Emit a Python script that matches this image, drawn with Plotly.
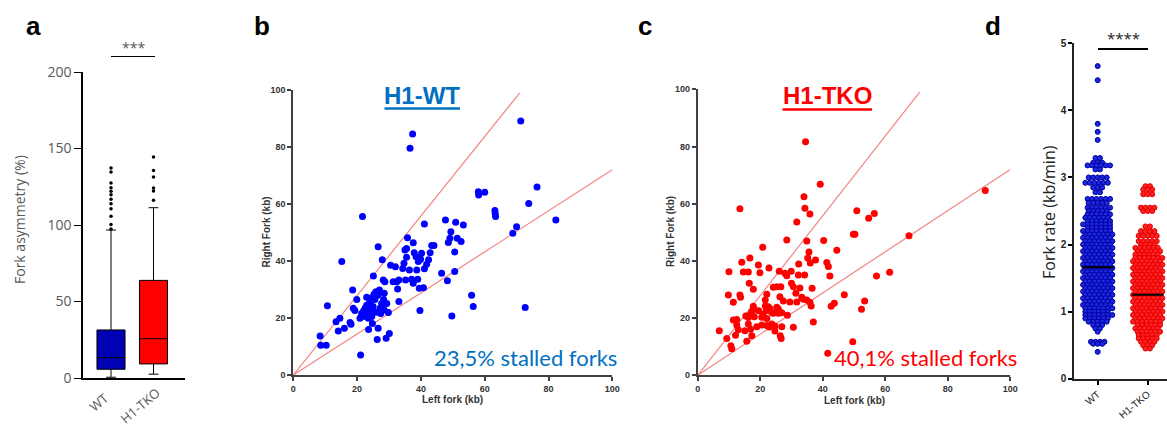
import plotly.graph_objects as go

W, H = 1167, 425
def fx(p): return p / W
def fy(p): return 1 - p / H

# ---------------- Panel a: fork asymmetry box plot ----------------
box_groups = ["WT", "H1-TKO"]
box_q1 = [5.7, 9.2]
box_median = [13.3, 25.7]
box_q3 = [31.4, 63.8]
box_lower = [0.5, 2.5]
box_upper = [96.7, 111.3]
box_colors = ["#0000B4", "#FF0000"]
wt_outliers = [97.4, 100.4, 105.7, 110.7, 113.9, 116.8, 119.8, 122.0, 124.4, 127.5, 134.6, 137.3]
tko_outliers = [116.1, 122.2, 124.2, 131.4, 135.7, 144.4]

# ---------------- Panel b: H1-WT left vs right fork ----------------
wt_left = [71.3, 37.4, 36.6, 21.7, 15.2, 10.7, 8.4, 8.6, 10.3, 13.4, 14.1, 14.6, 16.0, 17.8, 18.1,
           18.6, 18.8, 19.3, 19.9, 20.9, 21.1, 21.4, 22.2, 22.5, 23.0, 23.0, 23.5, 23.6, 24.0, 24.3,
           24.6, 24.8, 25.1, 25.3, 25.6, 25.9, 26.3, 26.6, 26.6, 27.0, 27.2, 27.4, 27.7, 27.9, 28.2,
           28.3, 28.5, 28.7, 29.1, 29.3, 29.8, 30.1, 30.5, 31.3, 32.0, 32.4, 32.7, 33.1, 33.1, 34.3,
           34.7, 35.0, 35.5, 35.2, 35.5, 35.8, 36.4, 37.1, 37.6, 37.6, 37.9, 38.5, 38.7, 39.0, 39.2,
           39.5, 39.7, 39.9, 40.2, 40.8, 41.1, 41.1, 41.8, 42.4, 42.9, 43.4, 44.1, 46.5, 47.7, 48.3,
           48.6, 49.1, 49.4, 49.7, 50.6, 50.6, 50.9, 51.4, 52.6, 53.3, 55.9, 56.4, 58.0, 58.1, 60.0,
           63.2, 63.3, 63.4, 68.8, 70.0, 72.7, 73.8, 76.4, 82.3,
           22.5, 23.5, 24.0, 22.0, 25.0, 26.0, 27.5, 28.0, 23.0, 24.5, 26.5, 28.5]
wt_right = [89.1, 84.6, 79.6, 55.6, 39.8, 24.3, 13.7, 10.4, 10.4, 18.7, 15.4, 19.9, 16.4, 18.4, 17.8,
            29.8, 23.4, 22.6, 26.5, 19.9, 7.0, 21.6, 21.1, 23.4, 21.6, 27.3, 19.9, 16.0, 25.7, 23.0,
            20.5, 18.1, 34.7, 28.3, 26.5, 29.2, 12.5, 16.4, 45.0, 29.8, 23.4, 21.6, 25.1, 40.4, 33.3,
            26.5, 28.7, 32.7, 12.9, 25.1, 21.9, 14.6, 38.5, 32.7, 38.0, 32.7, 30.2, 33.3, 25.8, 37.4,
            39.2, 43.9, 44.4, 33.3, 41.3, 48.2, 36.8, 33.6, 46.4, 32.2, 42.9, 41.5, 36.8, 33.6, 39.8,
            30.4, 22.6, 40.6, 42.7, 30.6, 53.0, 37.3, 38.9, 40.4, 42.9, 45.4, 45.4, 35.7, 54.4, 33.1,
            46.5, 48.0, 50.3, 20.7, 36.3, 43.2, 53.6, 48.0, 46.8, 52.6, 28.0, 24.0, 64.3, 63.2, 64.1,
            57.7, 56.7, 55.6, 49.7, 52.0, 23.7, 60.2, 66.0, 54.4,
            20.5, 22.0, 21.0, 22.5, 24.0, 22.0, 22.5, 24.0, 24.5, 27.0, 28.0, 22.8]

# ---------------- Panel c: H1-TKO left vs right fork ----------------
tko_left = [34.5, 39.2, 13.5, 34.0, 34.3, 35.9, 31.7, 28.5, 34.9, 20.8, 40.3, 44.5, 35.6, 35.2, 16.7,
            14.1, 37.7, 36.0, 41.3, 19.4, 41.8, 32.3, 22.8, 10.0, 14.6, 16.2, 19.9, 26.1, 27.9, 29.9,
            28.5, 32.2, 34.2, 42.3, 57.2, 61.4, 16.5, 30.0, 30.6, 32.7, 36.6, 24.2, 25.3, 26.6, 17.8,
            9.8, 13.5, 13.7, 22.1, 26.3, 31.4, 33.3, 46.9, 11.4, 21.6, 27.4, 29.5, 31.7, 33.8, 34.9,
            35.9, 36.3, 42.7, 43.7, 53.4, 52.4, 17.8, 18.0, 21.6, 22.6, 23.1, 25.3, 25.8, 17.3, 19.5,
            21.9, 23.7, 26.9, 16.7, 20.9, 24.2, 25.8, 15.4, 11.4, 12.5, 16.2, 18.1, 20.5, 22.1, 28.7,
            12.5, 16.2, 18.9, 20.5, 22.1, 23.7, 24.7, 26.9, 30.6, 13.0, 15.1, 16.9, 22.9, 6.9, 37.0,
            12.1, 17.3, 24.7, 26.4, 26.7, 9.3, 15.7, 10.6, 10.9, 49.6, 41.6, 49.8, 50.3, 50.9, 54.7,
            56.5, 67.6, 92.0]
tko_right = [81.7, 66.8, 58.2, 62.4, 58.4, 56.4, 53.6, 47.3, 47.0, 44.8, 47.1, 43.7, 43.1, 41.0, 41.0,
             39.5, 40.3, 39.3, 39.4, 38.6, 38.0, 38.9, 37.5, 36.2, 36.1, 36.1, 35.9, 36.4, 35.7, 36.4,
             34.8, 35.1, 35.1, 34.7, 34.7, 36.0, 32.2, 32.2, 31.0, 30.5, 30.4, 30.8, 31.0, 31.0, 30.1,
             28.1, 28.1, 27.3, 28.3, 27.5, 28.7, 27.3, 28.2, 25.5, 26.3, 26.0, 25.6, 25.6, 26.6, 26.3,
             25.5, 24.2, 24.1, 25.2, 26.0, 23.1, 24.1, 23.1, 24.2, 24.0, 23.4, 23.8, 23.2, 22.3, 22.6,
             22.6, 21.9, 21.9, 21.1, 21.3, 21.7, 21.7, 20.7, 19.3, 19.5, 20.2, 20.5, 20.3, 19.9, 21.0,
             17.6, 17.9, 17.0, 17.6, 17.4, 17.9, 17.2, 17.0, 16.8, 15.9, 15.6, 16.1, 16.9, 15.6, 18.6,
             14.0, 13.8, 15.5, 13.8, 12.9, 12.9, 11.9, 10.3, 9.3, 11.7, 7.7, 49.3, 49.3, 57.5, 54.9,
             56.6, 48.8, 64.6]

# guide lines (stall thresholds)
guide_steep_x = [0, 71]
guide_steep_y = [0, 99]
guide_shallow_x = [0, 100]
guide_shallow_y = [0, 72]

# ---------------- Panel d: fork rate swarm (rows: level, dots per row) ----------------
wt_rate_levels = [4.66, 4.45, 3.80, 3.68, 3.56, 3.29, 3.22, 3.18, 3.12, 3.00, 2.92, 2.85, 2.78, 2.68,
                  2.62, 2.55, 2.50, 2.45, 2.40, 2.35, 2.30, 2.25, 2.20, 2.15, 2.10, 2.05, 2.00, 1.95,
                  1.90, 1.85, 1.80, 1.75, 1.70, 1.65, 1.60, 1.55, 1.50, 1.45, 1.40, 1.35, 1.30, 1.25,
                  1.20, 1.15, 1.10, 1.05, 1.00, 0.95, 0.90, 0.85, 0.80, 0.75, 0.70, 0.55, 0.52, 0.40]
wt_rate_counts = [1, 1, 1, 1, 1, 2, 3, 6, 2, 5, 6, 3, 2, 6,
                  5, 6, 5, 6, 6, 6, 7, 6, 7, 7, 7, 7, 7, 7,
                  7, 7, 7, 7, 7, 7, 7, 7, 7, 7, 7, 7, 7, 7,
                  7, 7, 7, 7, 6, 7, 6, 5, 3, 2, 1, 4, 3, 1]
tko_rate_levels = [2.87, 2.82, 2.75, 2.55, 2.50, 2.27, 2.20, 2.13, 2.05, 2.00, 1.95, 1.90, 1.85, 1.80,
                   1.75, 1.70, 1.65, 1.60, 1.55, 1.50, 1.45, 1.40, 1.35, 1.30, 1.25, 1.20, 1.15, 1.10,
                   1.05, 1.00, 0.95, 0.90, 0.85, 0.80, 0.75, 0.70, 0.65, 0.60, 0.55, 0.50, 0.45]
tko_rate_counts = [2, 3, 3, 4, 3, 2, 4, 5, 5, 4, 6, 6, 6, 7,
                   7, 7, 7, 7, 7, 7, 7, 7, 7, 7, 7, 7, 7, 7,
                   7, 7, 7, 7, 7, 6, 6, 6, 5, 5, 4, 3, 2]
rate_medians = [1.66, 1.25]
rate_groups = ["WT", "H1-TKO"]

fig = go.Figure()

# ---- panel a traces
for i, (q1, med, q3, lo, up, col) in enumerate(zip(box_q1, box_median, box_q3, box_lower, box_upper, box_colors)):
    fig.add_trace(go.Box(x=[i], q1=[q1], median=[med], q3=[q3], lowerfence=[lo], upperfence=[up],
                         fillcolor=col, line=dict(color="black", width=1), width=0.66,
                         whiskerwidth=0.35, boxpoints=False, showlegend=False,
                         xaxis="x", yaxis="y"))
fig.add_trace(go.Scatter(x=[0] * len(wt_outliers), y=wt_outliers, mode="markers",
                         marker=dict(color="black", size=3.5), xaxis="x", yaxis="y", showlegend=False))
fig.add_trace(go.Scatter(x=[1] * len(tko_outliers), y=tko_outliers, mode="markers",
                         marker=dict(color="black", size=3.5), xaxis="x", yaxis="y", showlegend=False))

# ---- panel b/c traces
guide_col = "rgba(240,110,110,0.85)"
for xa, ya, lx, ly, col in [("x2", "y2", wt_left, wt_right, "#0000FF"),
                            ("x3", "y3", tko_left, tko_right, "#FF0000")]:
    fig.add_trace(go.Scatter(x=guide_steep_x, y=guide_steep_y, mode="lines",
                             line=dict(color=guide_col, width=1.2), xaxis=xa, yaxis=ya, showlegend=False))
    fig.add_trace(go.Scatter(x=guide_shallow_x, y=guide_shallow_y, mode="lines",
                             line=dict(color=guide_col, width=1.2), xaxis=xa, yaxis=ya, showlegend=False))
    fig.add_trace(go.Scatter(x=lx, y=ly, mode="markers", marker=dict(color=col, size=7),
                             xaxis=xa, yaxis=ya, showlegend=False, cliponaxis=False))

# ---- panel d swarm
dx = 0.09
for gi, (levels, counts, col, lcol) in enumerate([(wt_rate_levels, wt_rate_counts, "#1C26DC", "#0000A0"),
                                                  (tko_rate_levels, tko_rate_counts, "#FF2020", "#E00000")]):
    xs, ys = [], []
    for r, (lv, n) in enumerate(zip(levels, counts)):
        shift = dx * 0.5 if (r % 2 == 1 and n >= 6) else 0.0
        for k in range(n):
            xs.append(gi + (k - (n - 1) / 2) * dx + shift - (dx * 0.25 if n >= 6 else 0))
            ys.append(lv)
    fig.add_trace(go.Scatter(x=xs, y=ys, mode="markers",
                             marker=dict(color=col, size=5, line=dict(color=lcol, width=1)),
                             xaxis="x4", yaxis="y4", showlegend=False, cliponaxis=False))
for gi, m in enumerate(rate_medians):
    fig.add_trace(go.Scatter(x=[gi - 0.32, gi + 0.32], y=[m, m], mode="lines",
                             line=dict(color="black", width=2), xaxis="x4", yaxis="y4", showlegend=False))

# ---------------- layout ----------------
grey = "#595959"
dark = "#404040"
small_bold = dict(family="Liberation Sans, Arial", size=9, color="#333333", weight="bold")
scat_axis = dict(range=[0, 100], tickvals=[0, 20, 40, 60, 80, 100], showgrid=False, zeroline=False,
                 showline=True, linecolor=dark, linewidth=1.8, ticks="outside", ticklen=4,
                 tickcolor=dark, tickwidth=1.5, tickfont=small_bold, automargin=False)

layout = dict(
    width=W, height=H, margin=dict(l=0, r=0, t=0, b=0, autoexpand=False),
    paper_bgcolor="white", plot_bgcolor="white", showlegend=False,
    xaxis=dict(domain=[fx(83), fx(185)], range=[-0.659, 1.741], anchor="y", automargin=False,
               tickvals=[0, 1], showticklabels=False, ticks="",
               showline=True, linecolor="black", linewidth=1.5, showgrid=False, zeroline=False),
    yaxis=dict(domain=[fy(378), fy(72)], range=[0, 200], anchor="x", automargin=False,
               tickvals=[0, 50, 100, 150, 200], ticks="outside", ticklen=7, tickcolor="black",
               tickfont=dict(family="Open Sans", size=14, color=grey),
               showline=True, linecolor="black", linewidth=1.5, showgrid=False, zeroline=False),
    xaxis2=dict(domain=[fx(293.3), fx(612.3)], anchor="y2", **scat_axis),
    yaxis2=dict(domain=[fy(375), fy(90)], anchor="x2", **scat_axis),
    xaxis3=dict(domain=[fx(697.7), fx(1010.3)], anchor="y3", **scat_axis),
    yaxis3=dict(domain=[fy(375.3), fy(89.3)], anchor="x3", **scat_axis),
    xaxis4=dict(domain=[fx(1074.3), 1.0], range=[-0.468, 1.386], anchor="y4", automargin=False,
                tickvals=[0, 1], ticktext=rate_groups, tickangle=-40, ticks="outside", ticklen=4,
                tickcolor="black", tickwidth=1.5,
                tickfont=dict(family="Liberation Sans, Arial", size=10, color="#222222"),
                showline=True, linecolor="#222222", linewidth=2, showgrid=False, zeroline=False),
    yaxis4=dict(domain=[fy(378.7), fy(43.3)], range=[0, 5], anchor="x4", automargin=False,
                tickvals=[0, 1, 2, 3, 4, 5], ticks="outside", ticklen=4, tickcolor="black", tickwidth=1.5,
                tickfont=dict(family="Liberation Sans, Arial", size=10, color="#222222", weight="bold"),
                showline=True, linecolor="#222222", linewidth=2, showgrid=False, zeroline=False),
)
fig.update_layout(**layout)

ann = []
def add_text(text, x, y, size, color="black", family="Liberation Sans, Arial", weight="normal", angle=0):
    ann.append(dict(text=text, x=fx(x), y=fy(y), xref="paper", yref="paper", showarrow=False,
                    xanchor="center", yanchor="middle", textangle=angle,
                    font=dict(family=family, size=size, color=color, weight=weight)))

# panel letters
add_text("a", 33, 26, 26, weight="bold")
add_text("b", 262, 26, 26, weight="bold")
add_text("c", 645, 26, 26, weight="bold")
add_text("d", 993, 26, 26, weight="bold")

# panel a texts (category labels, rotated)
for gi, g in enumerate(box_groups):
    ann.append(dict(text=g, x=gi, y=0, xref="x", yref="y", showarrow=False,
                    xanchor="center", yanchor="middle", textangle=-40,
                    xshift=-12 if gi == 0 else -14, yshift=-24 if gi == 0 else -28,
                    font=dict(family="Open Sans", size=13, color=grey)))
add_text("Fork asymmetry (%)", 19, 220, 14, color=grey, family="Open Sans", angle=-90)
add_text("***", 133, 47, 14, color=grey, family="Open Sans")

# panel b texts
add_text("H1-WT", 422, 96, 24, color="#0070C0", weight="bold")
add_text("23,5% stalled forks", 525, 357, 22, color="#0070C0", family="Lato")
add_text("Left fork (kb)", 452, 399, 10, color="#333333", weight="bold")
add_text("Right Fork (kb)", 265.5, 232, 10, color="#333333", weight="bold", angle=-90)

# panel c texts
add_text("H1-TKO", 827, 96, 24, color="#FF0000", weight="bold")
add_text("40,1% stalled forks", 925, 357, 22, color="#FF0000", family="Lato")
add_text("Left fork (kb)", 854, 400, 10, color="#333333", weight="bold")
add_text("Right Fork (kb)", 670, 232, 10, color="#333333", weight="bold", angle=-90)

# panel d texts
add_text("Fork rate (kb/min)", 1049, 212, 16, color="#222222", family="Open Sans", angle=-90)
add_text("****", 1123, 38, 15, color="#222222", family="Open Sans")

fig.update_layout(annotations=ann)

shapes = [
    dict(type="line", xref="paper", yref="paper", x0=fx(111), x1=fx(155), y0=fy(56.5), y1=fy(56.5),
         line=dict(color="black", width=1.2)),
    dict(type="line", xref="paper", yref="paper", x0=fx(384.5), x1=fx(460), y0=fy(108.5), y1=fy(108.5),
         line=dict(color="#0070C0", width=2.5)),
    dict(type="line", xref="paper", yref="paper", x0=fx(782.5), x1=fx(872), y0=fy(109.5), y1=fy(109.5),
         line=dict(color="#FF0000", width=2.5)),
    dict(type="line", xref="paper", yref="paper", x0=fx(1098), x1=fx(1148), y0=fy(49), y1=fy(49),
         line=dict(color="black", width=2)),
]
fig.update_layout(shapes=shapes)

fig.write_html("out.html")
